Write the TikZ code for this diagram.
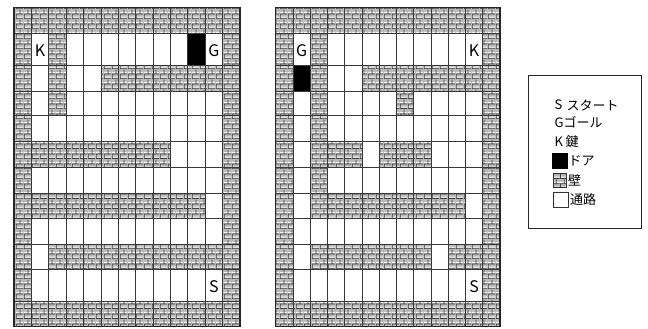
\documentclass[tikz,border=0pt]{standalone}
\usepackage{fontspec}
\setmainfont{Noto Sans CJK JP}
\usetikzlibrary{patterns}

\pgfdeclarepatternformonly{brickdark}{\pgfqpoint{0pt}{0pt}}{\pgfqpoint{8pt}{10pt}}{\pgfqpoint{8pt}{10pt}}{%
  \pgfsetlinewidth{0.8pt}%
  \pgfpathmoveto{\pgfqpoint{0pt}{0.4pt}}\pgfpathlineto{\pgfqpoint{8pt}{0.4pt}}%
  \pgfpathmoveto{\pgfqpoint{0pt}{5.4pt}}\pgfpathlineto{\pgfqpoint{8pt}{5.4pt}}%
  \pgfpathmoveto{\pgfqpoint{0.4pt}{0pt}}\pgfpathlineto{\pgfqpoint{0.4pt}{5pt}}%
  \pgfpathmoveto{\pgfqpoint{4.4pt}{5pt}}\pgfpathlineto{\pgfqpoint{4.4pt}{10pt}}%
  \pgfusepath{stroke}}
\pgfdeclarepatternformonly{brickwhite}{\pgfqpoint{0pt}{0pt}}{\pgfqpoint{8pt}{10pt}}{\pgfqpoint{8pt}{10pt}}{%
  \pgfsetlinewidth{1.2pt}%
  \pgfpathmoveto{\pgfqpoint{0pt}{2pt}}\pgfpathlineto{\pgfqpoint{8pt}{2pt}}%
  \pgfpathmoveto{\pgfqpoint{0pt}{7pt}}\pgfpathlineto{\pgfqpoint{8pt}{7pt}}%
  \pgfusepath{stroke}}

\def\RY{{7.3,33.3,65.7,91,115,141.7,167.3,193.3,218.3,244,269.3,301.7,326.7}}

% style, x0, w, row1, row2, col1, col2
\newcommand\blk[7]{%
  \pgfmathsetmacro\ya{\RY[#4]}%
  \pgfmathtruncatemacro\rb{#5+1}%
  \pgfmathsetmacro\yb{\RY[\rb]}%
  \path[#1] ({#2+(#6)*#3},\ya) rectangle ({#2+(#7+1)*#3},\yb);}

% grid lines: x0, w
\newcommand\gridlines[2]{%
  \foreach \k in {0,...,13}{\draw[gridline] ({#1+\k*#2},7.3) -- ({#1+\k*#2},326.7);}
  \foreach \r in {0,...,12}{\pgfmathsetmacro\yy{\RY[\r]}\draw[gridline] (#1,\yy) -- ({#1+13*#2},\yy);}
  \draw[outer] (#1,7.3) rectangle ({#1+13*#2},326.7);}

\begin{document}
\begin{tikzpicture}[x=1pt,y=-1pt,
  wall/.style={fill=gray!55,
     postaction={pattern=brickwhite, pattern color=white!92!gray},
     postaction={pattern=brickdark, pattern color=black!75}},
  door/.style={fill=black},
  road/.style={fill=white},
  gridline/.style={draw=black!78, line width=0.8pt},
  outer/.style={draw=black!85, line width=1.3pt},
  lbl/.style={inner sep=0pt, font=\fontsize{16}{18}\selectfont},
  leg/.style={inner sep=0pt, anchor=west, font=\fontsize{13}{15}\selectfont}]
\useasboundingbox (0,0) rectangle (648,329);
\fill[white] (0,0) rectangle (648,329);

% ---------- grid 1 ----------
\def\XA{14}\def\WA{17.385}
\blk{road}{\XA}{\WA}{0}{11}{0}{12}
\blk{wall}{\XA}{\WA}{0}{0}{0}{12}
\blk{wall}{\XA}{\WA}{11}{11}{0}{12}
\blk{wall}{\XA}{\WA}{1}{10}{0}{0}
\blk{wall}{\XA}{\WA}{1}{10}{12}{12}
\blk{wall}{\XA}{\WA}{1}{3}{2}{2}
\blk{door}{\XA}{\WA}{1}{1}{10}{10}
\blk{wall}{\XA}{\WA}{2}{2}{5}{11}
\blk{wall}{\XA}{\WA}{5}{5}{1}{8}
\blk{wall}{\XA}{\WA}{7}{7}{1}{10}
\blk{wall}{\XA}{\WA}{9}{9}{2}{11}
\gridlines{\XA}{\WA}
\node[lbl] (k1) at (40.1,50.5) {K};
\node[lbl] (g1) at (213.9,50.5) {G};
\node[lbl] (s1) at (213.9,286.5) {S};

% ---------- grid 2 ----------
\def\XB{275.7}\def\WB{17.25}
\blk{road}{\XB}{\WB}{0}{11}{0}{12}
\blk{wall}{\XB}{\WB}{0}{0}{0}{12}
\blk{wall}{\XB}{\WB}{11}{11}{0}{12}
\blk{wall}{\XB}{\WB}{1}{10}{0}{0}
\blk{wall}{\XB}{\WB}{1}{10}{12}{12}
\blk{wall}{\XB}{\WB}{1}{7}{2}{2}
\blk{door}{\XB}{\WB}{2}{2}{1}{1}
\blk{wall}{\XB}{\WB}{2}{2}{5}{11}
\blk{wall}{\XB}{\WB}{3}{3}{7}{7}
\blk{wall}{\XB}{\WB}{5}{5}{3}{4}
\blk{wall}{\XB}{\WB}{5}{5}{6}{8}
\blk{wall}{\XB}{\WB}{7}{7}{3}{10}
\blk{wall}{\XB}{\WB}{9}{9}{2}{8}
\blk{wall}{\XB}{\WB}{9}{9}{10}{11}
\gridlines{\XB}{\WB}
\node[lbl] (g2) at (301.6,50.5) {G};
\node[lbl] (k2) at (474.1,50.5) {K};
\node[lbl] (s2) at (474.1,286.5) {S};

% ---------- legend ----------
\draw[draw=black!85, line width=1pt] (528,76) rectangle (641,228);
\node[leg] (ls) at (554.5,105) {S};
\node[leg] (lst) at (566.5,105) {スタート};
\node[leg] (lg) at (554.5,122.5) {G};
\node[leg] (lgt) at (563.5,122.5) {ゴール};
\node[leg] (lk) at (554.5,141.5) {K};
\node[leg] (lkt) at (565.5,141.5) {鍵};
\fill[black] (552,153) rectangle (568,168.5);
\node[leg] (ld) at (568.5,161) {ドア};
\path[wall] (553,173.5) rectangle (566.5,187);
\draw[black!80, line width=0.6pt] (553,173.5) rectangle (566.5,187);
\node[leg] (lw) at (568,180) {壁};
\draw[black!80, line width=0.7pt] (553,192) rectangle (568,207);
\node[leg] (lr) at (570,199.5) {通路};
\end{tikzpicture}
\end{document}
